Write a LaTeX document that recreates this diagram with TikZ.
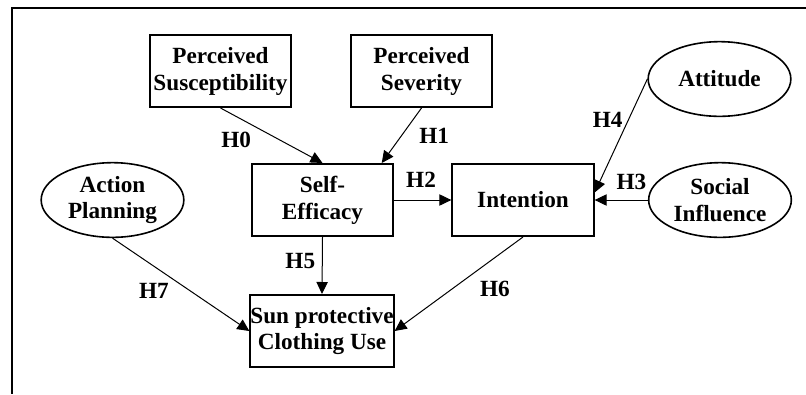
\documentclass[tikz,border=0pt]{standalone}
\usepackage{fontspec}
\setmainfont{Liberation Serif}
\usetikzlibrary{arrows.meta, shapes.geometric}

\begin{document}
\begin{tikzpicture}[x=0.75pt, y=-0.75pt, font=\bfseries\fontsize{17.4}{20.2}\selectfont]
    \useasboundingbox (0,0) rectangle (806,394);
    \draw [line width=1.4pt] (806,8) -- (12,8) -- (12,394);

    \begin{scope}[every node/.style={rectangle,draw,line width=1.5pt,align=center,
        minimum width=106pt,minimum height=54pt,inner sep=0pt}]
        \node (PS) at (220.5,71) {Perceived\\Susceptibility};
        \node (PSev) at (421.5,71) {Perceived\\Severity};
        \node (SE) at (322.5,200) {Self-\\Efficacy};
        \node (IN) at (523,200) {Intention};
        \node (SPC) at (322,331) {Sun protective\\Clothing Use};
    \end{scope}

    \begin{scope}[every node/.style={ellipse,draw,line width=1.2pt,align=center,
        minimum width=107pt,minimum height=56pt,inner sep=0pt}]
        \node (AT) at (719.5,79) {Attitude};
        \node (SI) at (720,200) {Social\\Influence};
        \node (AP) at (112.5,200) {Action\\Planning};
    \end{scope}

    \begin{scope}[>={Triangle[length=9pt,width=8.5pt]},
        every node/.style={inner sep=1pt},
        every edge/.style={draw=black,line width=0.75pt}]
        \path [->] (PS.south) edge node[pos=0.35,below left=2.6pt] {H0} (SE.north);
        \path [->] (PSev.south) edge node[pos=0.5,right=12pt] {H1} (SE.32);
        \path [->] (SE) edge node[pos=0.47,above=8pt] {H2} (IN);
        \path [->] (SI) edge node[pos=0.31,above=6pt] {H3} (IN);
        \path [->] (AT.west) edge node[pos=0.36,left=3pt] {H4} (IN.6);
        \path [->] (SE.south) edge node[pos=0.42,left=4pt] {H5} (SPC.north);
        \path [->] (IN.south) edge node[pos=0.39,below right=4pt] {H6} (SPC.east);
        \path [->] (AP.south) edge node[pos=0.44,below left=1.6pt] {H7} (SPC.west);
    \end{scope}
\end{tikzpicture}
\end{document}
